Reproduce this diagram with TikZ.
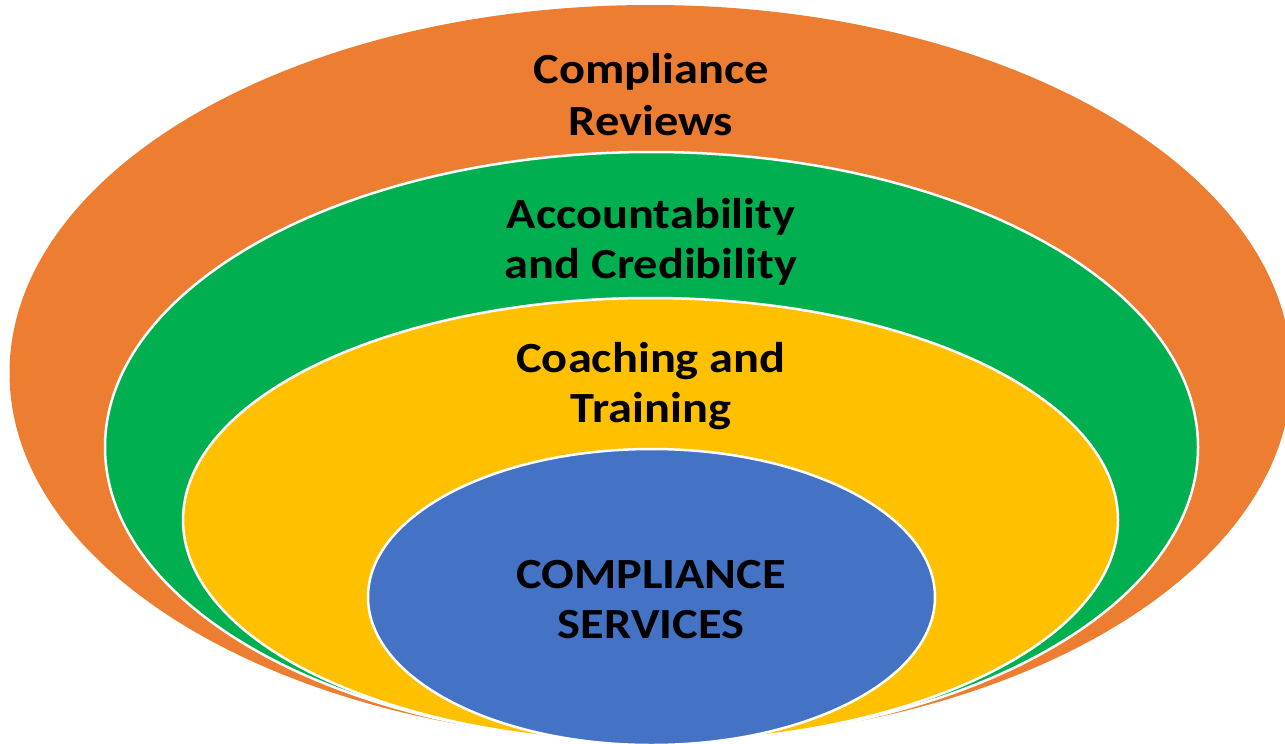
\documentclass[tikz,border=0pt]{standalone}
\usepackage{fontspec}
\setmainfont[FakeStretch=1.125]{Carlito}
\definecolor{cOrange}{HTML}{ED7D31}
\definecolor{cGreen}{HTML}{00B050}
\definecolor{cYellow}{HTML}{FFC000}
\definecolor{cBlue}{HTML}{4472C4}
\tikzset{
  ring/.style={draw=white, line width=2.5pt},
  lbl/.style={anchor=base, inner sep=0pt, text=black, font=\fontsize{43}{50}\selectfont\bfseries}
}
\begin{document}
\begin{tikzpicture}[x=1pt,y=-1pt]
\useasboundingbox (0,0) rectangle (1285,744);
\clip (0,0) rectangle (1285,744);
\fill[white] (0,0) rectangle (1285,744);
% rings
\fill[cOrange] (650.5,373) ellipse [x radius=641pt, y radius=368pt];
\filldraw[ring, fill=cGreen] (651.5,447) ellipse [x radius=546.5pt, y radius=295pt];
\filldraw[ring, fill=cYellow] (650.5,520) ellipse [x radius=467.5pt, y radius=222pt];
\filldraw[ring, fill=cBlue] (651.5,597) ellipse [x radius=283.5pt, y radius=148pt];
% labels
\node[lbl] (rev1) at (651,83) {Compliance};
\node[lbl] (rev2) at (651,135) {Reviews};
\node[lbl] (acc1) at (651,228) {Accountability};
\node[lbl] (acc2) at (651,278) {and Credibility};
\node[lbl] (coa1) at (651,372) {Coaching and};
\node[lbl] (coa2) at (651,422) {Training};
\node[lbl] (ser1) at (651,588) {COMPLIANCE};
\node[lbl] (ser2) at (651,638) {SERVICES};
\end{tikzpicture}
\end{document}
